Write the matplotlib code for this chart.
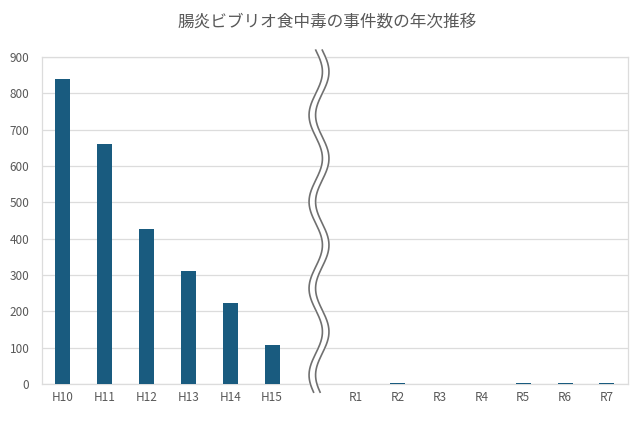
import numpy as np
import matplotlib
matplotlib.use("Agg")
import matplotlib.pyplot as plt
from matplotlib.transforms import blended_transform_factory

plt.rcParams['font.family'] = ['Noto Sans CJK JP', 'DejaVu Sans']

categories = ["H10", "H11", "H12", "H13", "H14", "H15", "", "R1", "R2", "R3", "R4", "R5", "R6", "R7"]
values = [839, 661, 427, 311, 222, 108, 0, 0, 2, 0, 0, 2, 2, 2]
yticks = [0, 100, 200, 300, 400, 500, 600, 700, 800, 900]
title = "腸炎ビブリオ食中毒の事件数の年次推移"

bar_color = "#195b7f"
grid_color = "#dcdcdc"
text_color = "#595959"

fig = plt.figure(figsize=(6.4, 4.21), dpi=100)
ax = fig.add_axes([0.0656, 0.0879, 0.9154, 0.7767])

x = np.arange(len(categories))
ax.bar(x, values, width=0.36, color=bar_color, zorder=3)

ax.set_xlim(-0.5, len(categories) - 0.5)
ax.set_ylim(0, 900)
ax.set_yticks(yticks)
ax.set_xticks(x)
ax.set_xticklabels(categories)
ax.tick_params(axis='both', length=0, colors=text_color, labelsize=8.5)
ax.tick_params(axis='x', pad=5)
ax.tick_params(axis='y', pad=9)
ax.grid(axis='y', color=grid_color, linewidth=0.9, zorder=0)
for s in ax.spines.values():
    s.set_color(grid_color)
    s.set_linewidth(0.9)

fig.text(0.511, 0.948, title, ha='center', va='center', fontsize=12, color=text_color)

# wavy break decoration at the gap category
gap_idx = categories.index("")
trans = blended_transform_factory(ax.transData, ax.transAxes)
t0 = 1.021
t = np.linspace(t0, -0.025, 800)
amp = 0.16
period = 0.265
xc = gap_idx + 0.12 + amp * np.sin(2 * np.pi * (t0 - t) / period)
ax.plot(xc, t, transform=trans, color="white", linewidth=6, clip_on=False, zorder=5,
        solid_capstyle='butt')
ax.plot(xc - 0.078, t, transform=trans, color="#707070", linewidth=1.2, clip_on=False, zorder=6)
ax.plot(xc + 0.078, t, transform=trans, color="#707070", linewidth=1.2, clip_on=False, zorder=6)

fig.savefig("out.png", dpi=100, facecolor="white")
